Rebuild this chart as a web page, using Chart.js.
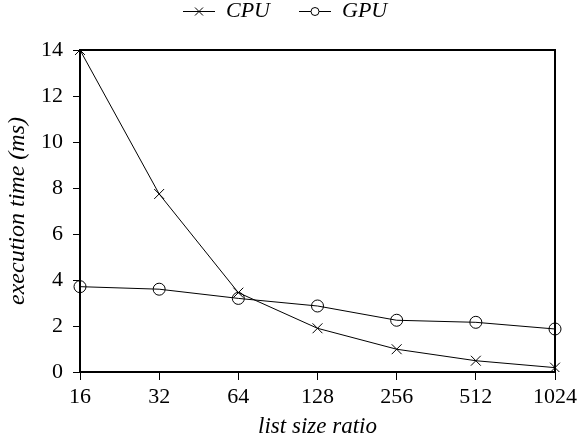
<!DOCTYPE html>
<html>
<head>
<meta charset="utf-8">
<script src="https://cdn.jsdelivr.net/npm/chart.js@4/dist/chart.umd.min.js"></script>
<style>
  html, body { margin: 0; padding: 0; background: #fff; }
  #wrap { width: 581px; height: 444px; }
</style>
</head>
<body>
<div id="wrap"><canvas id="myChart" width="581" height="444"></canvas></div>
<script>
/* global Chart */
const sizes = ["16", "32", "64", "128", "256", "512", "1024"];
const cpuTimes = [14, 7.74, 3.45, 1.9, 0.99, 0.49, 0.19];
const gpuTimes = [3.71, 3.6, 3.2, 2.87, 2.25, 2.16, 1.87];
const yTicks = [0, 2, 4, 6, 8, 10, 12, 14];

const serif = "'Liberation Serif', 'Times New Roman', serif";
const legendPad = 29;

// little legend pictures: line with marker in the middle
function legendIcon(kind) {
  const c = document.createElement("canvas");
  c.width = 32;
  c.height = 12;
  const g = c.getContext("2d");
  g.strokeStyle = "#000";
  g.lineWidth = 1;
  g.beginPath();
  g.moveTo(0, 6.5);
  g.lineTo(32, 6.5);
  g.stroke();
  if (kind === "cross") {
    g.beginPath();
    g.moveTo(12, 2.5);
    g.lineTo(20, 10.5);
    g.moveTo(20, 2.5);
    g.lineTo(12, 10.5);
    g.stroke();
  } else {
    g.fillStyle = "#fff";
    g.beginPath();
    g.arc(16, 6.5, 4, 0, Math.PI * 2);
    g.fill();
    g.stroke();
  }
  return c;
}
const icons = [legendIcon("cross"), legendIcon("circle")];

const boxPlugin = {
  id: "box",
  afterDatasetsDraw(chart) {
    const a = chart.chartArea;
    const ctx = chart.ctx;
    ctx.save();
    ctx.strokeStyle = "#000";
    ctx.lineWidth = 2;
    ctx.beginPath();
    ctx.moveTo(a.left, a.top);
    ctx.lineTo(a.right, a.top);
    ctx.lineTo(a.right, a.bottom);
    ctx.stroke();
    ctx.restore();
  },
};

// keep the legend box 50px tall, then slide it where the original had it
const legendPlace = {
  id: "legendPlace",
  afterInit(chart) {
    const lg = chart.legend;
    const fit = lg.fit;
    lg.fit = function () {
      fit.call(this);
      this.height = 50;
    };
  },
  afterLayout(chart) {
    const lg = chart.legend;
    const lw = lg.lineWidths[0];
    const start = (lg.left + legendPad + lg.right - lw) / 2;
    const dx = 183 - start;
    lg.left += dx;
    lg.right += dx;
    lg.top = 11 - legendPad - 11;
  },
};

var ctx = document.getElementById("myChart").getContext("2d");
var myChart = new Chart(ctx, {
  type: "line",
  data: {
    labels: sizes,
    datasets: [
      {
        label: "CPU",
        data: cpuTimes,
        borderColor: "#000",
        borderWidth: 1,
        pointStyle: "crossRot",
        pointRadius: 7,
        pointBorderColor: "#000",
        pointBorderWidth: 1,
        fill: false,
        tension: 0,
      },
      {
        label: "GPU",
        data: gpuTimes,
        borderColor: "#000",
        borderWidth: 1,
        pointStyle: "circle",
        pointRadius: 6,
        pointBackgroundColor: "rgba(0,0,0,0)",
        pointBorderColor: "#000",
        pointBorderWidth: 1,
        fill: false,
        tension: 0,
      },
    ],
  },
  options: {
    responsive: false,
    animation: false,
    layout: { padding: { left: 0, right: 24, top: 0, bottom: 0 } },
    plugins: {
      tooltip: { enabled: false },
      legend: {
        position: "top",
        align: "center",
        labels: {
          color: "#000",
          font: { family: serif, size: 22, style: "italic" },
          usePointStyle: true,
          pointStyleWidth: 32,
          padding: legendPad,
          generateLabels(chart) {
            const items = Chart.defaults.plugins.legend.labels.generateLabels(chart);
            items.forEach((it, i) => {
              it.pointStyle = icons[i];
            });
            return items;
          },
        },
      },
    },
    scales: {
      x: {
        offset: false,
        border: { display: true, color: "#000", width: 2 },
        grid: { display: true, drawOnChartArea: false, drawTicks: true, tickLength: 8, color: "#000", lineWidth: 1 },
        ticks: { color: "#000", font: { family: serif, size: 22 }, padding: 4, maxRotation: 0 },
        title: { display: true, text: "list size ratio", color: "#000", font: { family: serif, size: 23, style: "italic" }, padding: { top: 4, bottom: 3 } },
        afterFit(scale) {
          scale.height = 72;
        },
      },
      y: {
        min: 0,
        max: 14,
        border: { display: true, color: "#000", width: 2 },
        grid: { display: true, drawOnChartArea: false, drawTicks: true, tickLength: 7, color: "#000", lineWidth: 1 },
        afterBuildTicks(scale) {
          scale.ticks = yTicks.map((v) => ({ value: v }));
        },
        ticks: { color: "#000", font: { family: serif, size: 22 }, padding: 10 },
        title: { display: true, text: "execution time (ms)", color: "#000", font: { family: serif, size: 24, style: "italic" }, padding: { top: 3, bottom: 2 } },
        afterFit(scale) {
          scale.width = 80;
        },
      },
    },
  },
  plugins: [boxPlugin, legendPlace],
});
</script>
</body>
</html>
